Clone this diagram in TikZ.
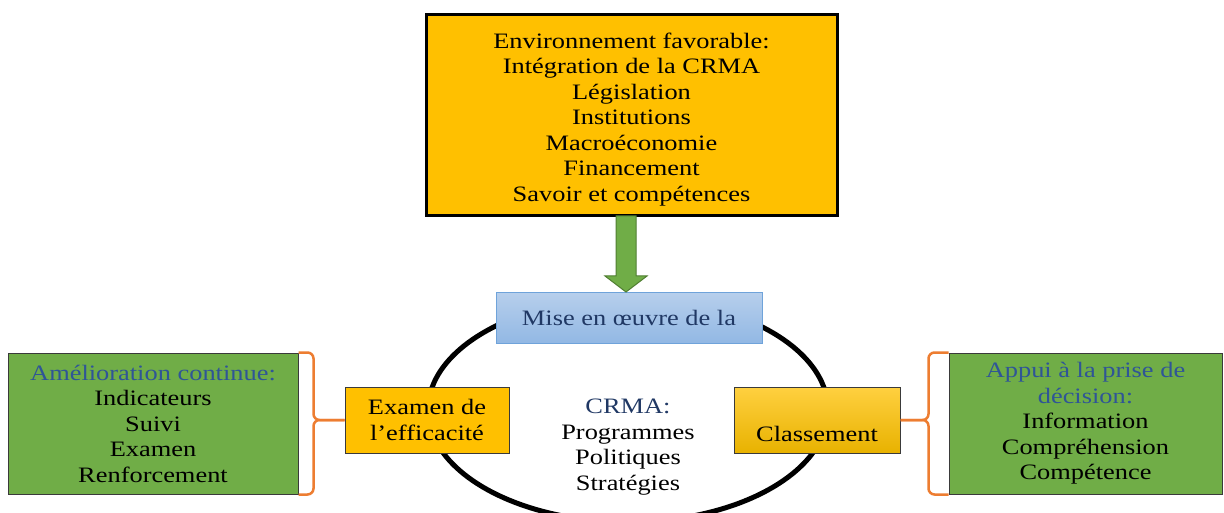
\documentclass[tikz,border=0pt]{standalone}
\usepackage{fontspec}
\setmainfont{Liberation Serif}[FakeStretch=1.2]
\usetikzlibrary{calc}
\definecolor{gold}{HTML}{FFC000}
\definecolor{goldtop}{HTML}{FFD040}
\definecolor{goldbot}{HTML}{E8B200}
\definecolor{leaf}{HTML}{70AD47}
\definecolor{leafdark}{HTML}{507E32}
\definecolor{skytop}{HTML}{B7CFEC}
\definecolor{skybot}{HTML}{92B8E4}
\definecolor{skyline}{HTML}{6FA3DA}
\definecolor{navy}{HTML}{203864}
\definecolor{midblue}{HTML}{2F5597}
\definecolor{bracecol}{HTML}{ED7D31}
\definecolor{edgegray}{HTML}{3A3A3A}
\begin{document}
\begin{tikzpicture}[x=1pt,y=-1pt,
  txt/.style={font=\fontsize{22}{25.5}\selectfont, align=center, inner sep=0pt},
  topbox/.style={txt, draw=black, line width=3pt, fill=gold, minimum width=411pt, minimum height=201pt},
  bluebox/.style={txt, draw=skyline, line width=1pt, top color=skytop, bottom color=skybot, text=navy, minimum width=266pt, minimum height=51pt},
  flatgold/.style={txt, draw=edgegray, line width=1pt, fill=gold, minimum width=164pt, minimum height=66pt},
  shadegold/.style={txt, draw=edgegray, line width=1pt, top color=goldtop, bottom color=goldbot, minimum width=166pt, minimum height=66pt},
  greenbox/.style={txt, draw=edgegray, line width=1pt, fill=leaf, minimum height=141pt},
  bracestyle/.style={draw=bracecol, line width=2.5pt, rounded corners=6pt},
  ring/.style={draw=black, line width=5pt}]
\useasboundingbox (0,0) rectangle (1224,513);
\clip (0,0) rectangle (1224,513);

% ellipse
\draw[ring] (628,410) ellipse [x radius=200pt, y radius=112pt];

% top box
\node[topbox] (top) at (631.5,115.5) {\smash{\raisebox{-9pt}{\parbox{400pt}{\centering Environnement favorable:\\Intégration de la CRMA\\Législation\\Institutions\\Macroéconomie\\Financement\\Savoir et compétences}}}};

% blue box
\node[bluebox] (mise) at (629,317.5) {Mise en œuvre de la};

% block arrow from top to mise
\coordinate (as) at (626,216);
\coordinate (ae) at (626,292);
\filldraw[fill=leaf, draw=leafdark, line width=1pt]
  ($(as)+(-10,0)$) -- ($(as)+(10,0)$) -- ($(ae)+(10,-16)$) -- ($(ae)+(21,-16)$) -- (ae)
  -- ($(ae)+(-21,-16)$) -- ($(ae)+(-10,-16)$) -- cycle;

% side boxes
\node[flatgold] (ex) at (427,420) {Examen de\\l’efficacité};
\node[shadegold] (cl) at (817,420) {\smash{\raisebox{-21pt}{Classement}}};

% centre text
\node[txt] (crma) at (628,447) {\textcolor{navy}{CRMA:}\\Programmes\\Politiques\\Stratégies};

% green boxes
\node[greenbox, minimum width=290pt] (lg) at (153,423.5) {\textcolor{midblue}{Amélioration continue:}\\Indicateurs\\Suivi\\Examen\\Renforcement};
\node[greenbox, minimum width=273pt] (rg) at (1085.5,423.5) {\textcolor{midblue}{Appui à la prise de}\\\textcolor{midblue}{décision:}\\Information\\Compréhension\\Compétence};

% braces
\draw[bracestyle] (lg.north east) -- ++(15,0) |- (ex.west);
\draw[bracestyle] (lg.south east) -- ++(15,0) |- (ex.west);
\draw[bracestyle] (rg.north west) -- ++(-20,0) |- (cl.east);
\draw[bracestyle] (rg.south west) -- ++(-20,0) |- (cl.east);
\end{tikzpicture}
\end{document}
